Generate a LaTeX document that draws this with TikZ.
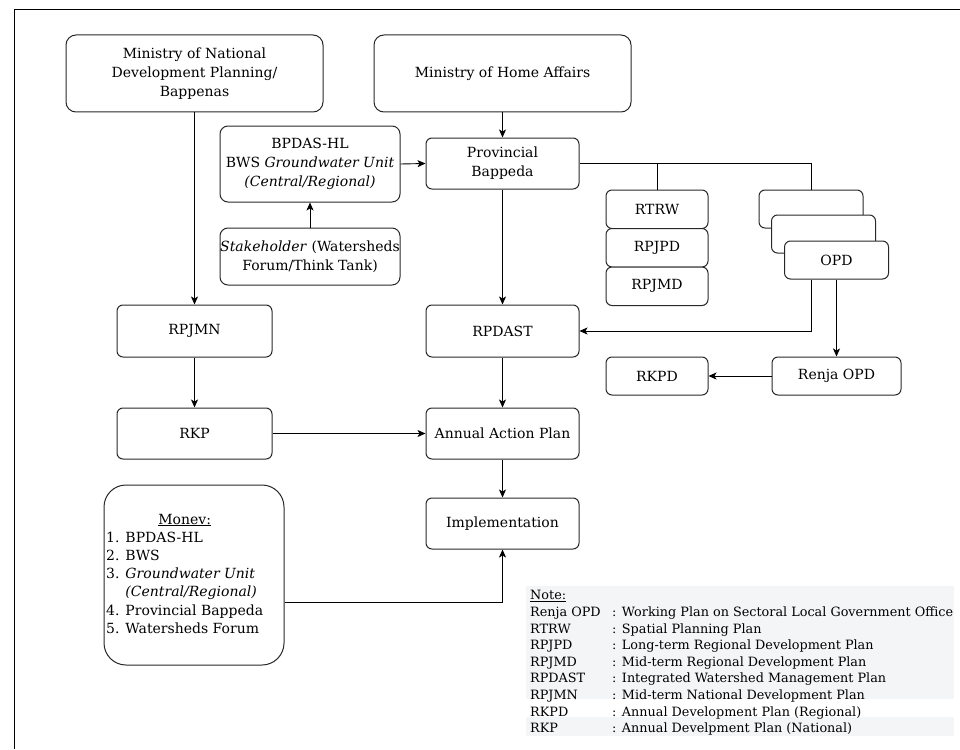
\documentclass[tikz,border=0pt]{standalone}
\usepackage{fontspec}
\setmainfont{DejaVu Serif}
\usetikzlibrary{arrows.meta,calc}
\definecolor{boxline}{RGB}{40,40,40}
\definecolor{notebg}{RGB}{244,245,247}
\begin{document}
\begin{tikzpicture}[x=1pt,y=-1pt,
  box/.style={draw=boxline, line width=1pt, rounded corners=6pt, fill=white, align=center, inner sep=0pt, font=\fontsize{14}{19}\selectfont},
  arr/.style={-{Stealth[length=8pt,width=7pt,inset=2pt]}, line width=0.9pt},
  ln/.style={line width=0.9pt}]
\useasboundingbox (0,0) rectangle (960,749);
\draw[line width=1.6pt] (14.5,749) -- (14.5,9.5) -- (960,9.5);

% top row
\node[box, minimum width=257pt, minimum height=77pt, rounded corners=10pt] (bap) at (194.5,73.5) {Ministry of National\\Development Planning/\\Bappenas};
\node[box, minimum width=257pt, minimum height=77pt, rounded corners=10pt] (home) at (502.5,73.5) {Ministry of Home Affairs};

\node[box, minimum width=153pt, minimum height=51pt] (prov) at (502.5,163.5) {Provincial\\Bappeda};
\node[box, minimum width=180pt, minimum height=76pt, rounded corners=8pt] (bpdas) at (310,164) {BPDAS-HL\\BWS \textit{Groundwater Unit}\\\textit{(Central/Regional)}};
\node[box, minimum width=180pt, minimum height=57pt, rounded corners=8pt] (stake) at (310,256.5) {\textit{Stakeholder} (Watersheds\\Forum/Think Tank)};

\node[box, minimum width=155pt, minimum height=52pt] (rpjmn) at (194.5,331) {RPJMN};
\node[box, minimum width=155pt, minimum height=51pt] (rkp) at (194.5,433.5) {RKP};

\node[box, minimum width=153pt, minimum height=52pt] (rpdast) at (502.5,331) {RPDAST};
\node[box, minimum width=153pt, minimum height=51pt] (aap) at (502.5,433.5) {Annual Action Plan};
\node[box, minimum width=153pt, minimum height=51pt] (impl) at (502.5,523.5) {Implementation};

\node[box, minimum width=180pt, minimum height=180pt, rounded corners=22pt] (monev) at (194,575) {};
\node[anchor=west, inner sep=0pt, font=\fontsize{14}{18.2}\selectfont] (monevtxt) at (106,575) {\begin{tabular}{@{}l@{}}\multicolumn{1}{@{}c@{}}{\underline{Monev:}}\\1. BPDAS-HL\\2. BWS\\3. \textit{Groundwater Unit}\\\phantom{3. }\textit{(Central/Regional)}\\4. Provincial Bappeda\\5. Watersheds Forum\end{tabular}};

% plan stack
\node[box, minimum width=102pt, minimum height=38.5pt] (rtrw) at (657,209.25) {RTRW};
\node[box, minimum width=102pt, minimum height=38.5pt] (rpjpd) at (657,247.75) {RPJPD};
\node[box, minimum width=102pt, minimum height=38.5pt] (rpjmd) at (657,286.25) {RPJMD};

% OPD stack
\node[box, minimum width=104pt, minimum height=38pt] (opdb) at (811,209) {};
\node[box, minimum width=104pt, minimum height=38pt] (opdm) at (823.5,234) {};
\node[box, minimum width=104pt, minimum height=38pt] (opd) at (836.5,260) {OPD};

\node[box, minimum width=129pt, minimum height=38pt] (renja) at (836.5,376) {Renja OPD};
\node[box, minimum width=102pt, minimum height=38pt] (rkpd) at (657,376) {RKPD};

% connectors
\draw[arr] (bap.south) -- (rpjmn.north);
\draw[arr] (home.south) -- (prov.north);
\draw[arr] (bpdas.east) -- (prov.west);
\draw[arr] (stake.north) -- (bpdas.south);
\draw[arr] (prov.south) -- (rpdast.north);
\draw[arr] (rpjmn.south) -- (rkp.north);
\draw[arr] (rkp.east) -- (aap.west);
\draw[arr] (rpdast.south) -- (aap.north);
\draw[arr] (aap.south) -- (impl.north);
\draw[arr] ([yshift=-27pt]monev.east) -| (impl.south);
\draw[ln] (prov.east) -- (opdb.north |- prov.east) -- (opdb.north);
\draw[ln] (rtrw.north |- prov.east) -- (rtrw.north);
\draw[arr] (opdb.north |- opd.south) |- (rpdast.east);
\draw[arr] (opd.south) -- (renja.north);
\draw[arr] (renja.west) -- (rkpd.east);

% note
\fill[notebg] (526,586) rectangle (954,736);
\fill[white] (526,699) rectangle (954,717);
\node[anchor=north west, inner sep=0pt, font=\fontsize{12.8}{16.6}\selectfont] (note) at (530,588) {\begin{tabular}{@{}p{82pt}@{}l@{}}
\underline{Note:} & \\
Renja OPD & : Working Plan on Sectoral Local Government Office\\
RTRW & : Spatial Planning Plan\\
RPJPD & : Long-term Regional Development Plan\\
RPJMD & : Mid-term Regional Development Plan\\
RPDAST & : Integrated Watershed Management Plan\\
RPJMN & : Mid-term National Development Plan\\
RKPD & : Annual Development Plan (Regional)\\
RKP & : Annual Develpment Plan (National)
\end{tabular}};
\end{tikzpicture}
\end{document}
